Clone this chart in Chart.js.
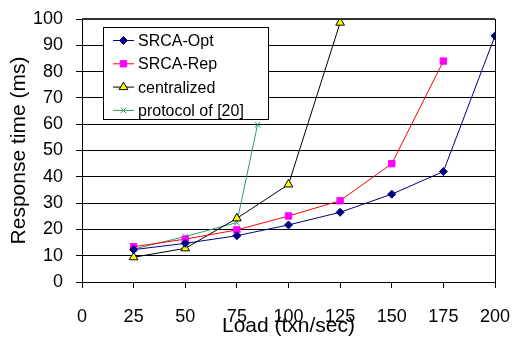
<!DOCTYPE html>
<html>
<head>
<meta charset="utf-8">
<script src="https://cdn.jsdelivr.net/npm/chart.js@4.4.1/dist/chart.umd.min.js"></script>
<style>
html,body{margin:0;padding:0;background:#fff;}
#wrap{width:516px;height:341px;position:relative;}
</style>
</head>
<body>
<div id="wrap"><canvas id="c" width="516" height="341"></canvas></div>
<script>
// ---- data ----
const seriesNames = ["SRCA-Opt", "SRCA-Rep", "centralized", "protocol of [20]"];
const srcaOptX = [25, 50, 75, 100, 125, 150, 175, 200];
const srcaOptY = [12.3, 14.7, 17.6, 21.7, 26.5, 33.4, 42.0, 93.6];
const srcaRepX = [25, 50, 75, 100, 125, 150, 175];
const srcaRepY = [13.4, 16.3, 19.8, 25.1, 30.9, 45.0, 84.0];
const centralX = [25, 50, 75, 100, 125];
const centralY = [9.4, 12.8, 24.2, 37.1, 98.6];
const protoX = [25, 50, 75, 85];
const protoY = [12.5, 17.3, 22.6, 59.8];
const xTicks = [0, 25, 50, 75, 100, 125, 150, 175, 200];
const yTicks = [0, 10, 20, 30, 40, 50, 60, 70, 80, 90, 100];
const xTitle = "Load (txn/sec)";
const yTitle = "Response time (ms)";

const pts = (xs, ys) => xs.map((x, i) => ({x: x, y: ys[i]}));
const FONT = "'Liberation Sans', Arial, sans-serif";

const styles = [
  {line: '#000080', fill: '#000080', border: '#000080', style: 'rectRot', r: 4},
  {line: '#FF0000', fill: '#FF00FF', border: '#FF00FF', style: 'rect', r: 4.5},
  {line: '#000000', fill: '#FFFF00', border: '#000000', style: 'triangle', r: 5},
  {line: '#339966', fill: '#339966', border: '#339966', style: 'crossRot', r: 4}
];
const raw = [[srcaOptX, srcaOptY], [srcaRepX, srcaRepY], [centralX, centralY], [protoX, protoY]];

const datasets = raw.map((d, i) => ({
  label: seriesNames[i],
  data: pts(d[0], d[1]),
  borderColor: styles[i].line,
  borderWidth: 1,
  backgroundColor: styles[i].fill,
  pointBackgroundColor: styles[i].fill,
  pointBorderColor: styles[i].border,
  pointBorderWidth: 1,
  pointStyle: styles[i].style,
  pointRadius: styles[i].r,
  pointHoverRadius: styles[i].r,
  tension: 0,
  fill: false
}));

const frame = {
  id: 'frame',
  afterDatasetsDraw(chart) {
    const {ctx, chartArea: a} = chart;
    ctx.save();
    ctx.strokeStyle = '#333';
    ctx.lineWidth = 2;
    ctx.beginPath();
    ctx.moveTo(a.left, a.top);
    ctx.lineTo(a.right, a.top);
    ctx.stroke();
    ctx.strokeStyle = '#000';
    ctx.lineWidth = 1;
    ctx.beginPath();
    ctx.moveTo(Math.round(a.right) + 0.5, a.top);
    ctx.lineTo(Math.round(a.right) + 0.5, a.bottom);
    ctx.stroke();
    // legend box
    const bx = 103.5, by = 27.5, bw = 165, bh = 92;
    ctx.fillStyle = '#fff';
    ctx.fillRect(bx, by, bw, bh);
    ctx.strokeStyle = '#000';
    ctx.lineWidth = 1;
    ctx.strokeRect(bx, by, bw, bh);
    ctx.font = "16px " + FONT;
    ctx.textBaseline = 'middle';
    ctx.textAlign = 'left';
    chart.data.datasets.forEach((ds, i) => {
      const y = 40.5 + i * 23.3;
      ctx.strokeStyle = ds.borderColor;
      ctx.lineWidth = 1;
      ctx.beginPath();
      ctx.moveTo(113, y);
      ctx.lineTo(134, y);
      ctx.stroke();
      ctx.fillStyle = ds.pointBackgroundColor;
      ctx.strokeStyle = ds.pointBorderColor;
      Chart.helpers.drawPoint(ctx, {
        pointStyle: ds.pointStyle, radius: ds.pointRadius, rotation: 0,
        borderWidth: 1
      }, 123.5, y);
      ctx.fillStyle = '#000';
      ctx.fillText(ds.label, 138, y + 1);
    });
    ctx.restore();
  }
};

function zeroPad(s) { s.paddingLeft = 0; s.paddingRight = 0; s.paddingTop = 0; s.paddingBottom = 0; }

new Chart(document.getElementById('c'), {
  type: 'line',
  data: {datasets: datasets},
  options: {
    responsive: false,
    animation: false,
    events: [],
    layout: {padding: {top: 19, right: 21, left: 0, bottom: 0}},
    plugins: {legend: {display: false}, tooltip: {enabled: false}},
    scales: {
      x: {
        type: 'linear', min: 0, max: 200,
        afterFit(s) { s.height = 59; zeroPad(s); },
        afterBuildTicks(s) { s.ticks = xTicks.map(v => ({value: v})); },
        ticks: {color: '#000', font: {family: FONT, size: 18}, padding: 18, maxRotation: 0, autoSkip: false},
        grid: {drawOnChartArea: false, drawTicks: true, tickLength: 6, color: '#000', tickColor: '#000'},
        border: {color: '#000', width: 1},
        title: {display: true, text: xTitle, color: '#000', font: {family: FONT, size: 21, lineHeight: 1}, padding: {bottom: 4}}
      },
      y: {
        type: 'linear', min: 0, max: 100,
        afterFit(s) { s.width = 82; zeroPad(s); },
        afterBuildTicks(s) { s.ticks = yTicks.map(v => ({value: v})); },
        ticks: {color: '#000', font: {family: FONT, size: 18}, padding: 13, autoSkip: false},
        grid: {drawOnChartArea: true, drawTicks: true, tickLength: 6, color: '#000', tickColor: '#000'},
        border: {color: '#000', width: 1},
        title: {display: true, text: yTitle, color: '#000', font: {family: FONT, size: 21, lineHeight: 1}, padding: {top: 9}}
      }
    }
  },
  plugins: [frame]
});
</script>
</body>
</html>
